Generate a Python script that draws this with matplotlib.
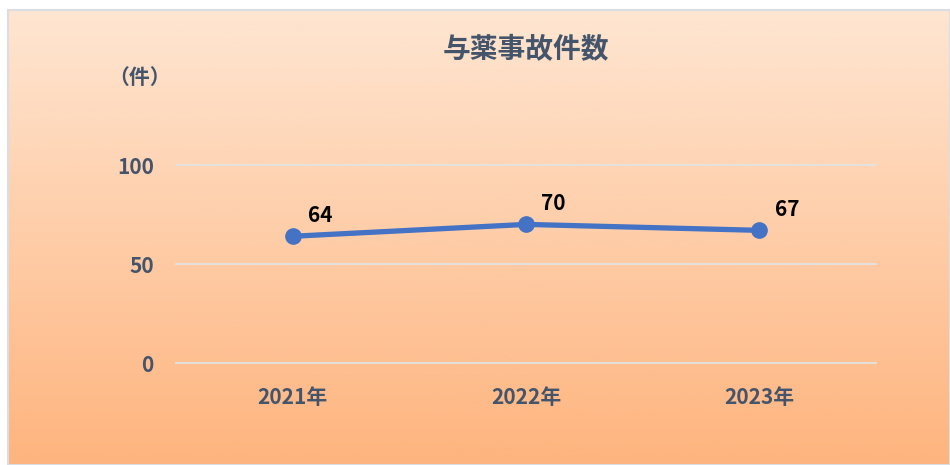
import numpy as np
import matplotlib
matplotlib.use("Agg")
from matplotlib import pyplot as plt
from matplotlib.colors import LinearSegmentedColormap

# Data
years = ["2021年", "2022年", "2023年"]
counts = [64, 70, 67]
yticks = [0, 50, 100]

plt.rcParams['font.family'] = ['Noto Sans CJK JP', 'DejaVu Sans']

text_color = "#44546A"
line_color = "#4472C4"

W, H = 950, 465
fig = plt.figure(figsize=(W / 100, H / 100), dpi=100)
fig.patch.set_facecolor("white")

# Chart area with vertical gradient
bg = fig.add_axes([8 / W, 0, (W - 8) / W, (H - 10) / H])
cmap = LinearSegmentedColormap.from_list("peach", ["#FEE6D2", "#FEB47E"])
grad = np.linspace(0, 1, 256).reshape(-1, 1)
bg.imshow(grad, aspect="auto", cmap=cmap, extent=[0, 1, 0, 1], origin="upper")
bg.set_xticks([])
bg.set_yticks([])
for s in bg.spines.values():
    s.set_color("#DADDE2")
    s.set_linewidth(1.5)

# Plot area
ax = fig.add_axes([176 / W, 102 / H, 700 / W, 198 / H])
ax.patch.set_alpha(0)
x = np.arange(len(years))
ax.plot(x, counts, color=line_color, linewidth=3.8, marker="o", markersize=11,
        solid_capstyle="round", zorder=3)

for xi, v in zip(x, counts):
    ax.annotate(str(v), (xi, v), xytext=(11, 15), textcoords="offset points",
                ha="left", va="center", fontsize=15, fontweight="bold", color="black")

ax.set_xlim(-0.5, 2.5)
ax.set_ylim(0, 100)
ax.set_yticks(yticks)
ax.set_xticks(x)
ax.set_xticklabels(years)
ax.grid(axis="y", color="#E3E3E3", linewidth=1.3)
for gl in ax.get_ygridlines():
    gl.set_clip_on(False)
ax.set_axisbelow(True)
for s in ax.spines.values():
    s.set_visible(False)
ax.tick_params(axis="both", length=0, labelsize=15, labelcolor=text_color)
ax.tick_params(axis="y", pad=16)
ax.tick_params(axis="x", pad=17)
for lab in ax.get_xticklabels() + ax.get_yticklabels():
    lab.set_fontweight("bold")

fig.text(526 / W, 1 - 50 / H, "与薬事故件数", ha="center", va="center",
         fontsize=20, fontweight="bold", color=text_color)
fig.text(140 / W, 1 - 77 / H, "（件）", ha="center", va="center",
         fontsize=15, fontweight="bold", color=text_color)

fig.savefig("out.png", dpi=100)
